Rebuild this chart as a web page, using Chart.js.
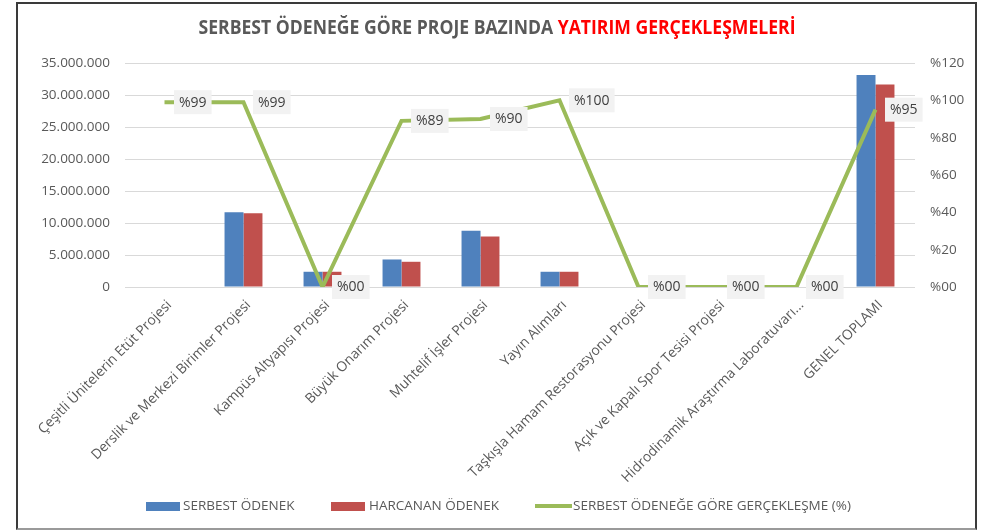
<!DOCTYPE html>
<html>
<head>
<meta charset="utf-8">
<script src="https://cdn.jsdelivr.net/npm/chart.js@4.4.1/dist/chart.umd.min.js"></script>
<style>
  html, body { margin: 0; padding: 0; background: #ffffff; }
  #wrap { position: relative; width: 992px; height: 531px; }
  #c { position: absolute; left: 0; top: 0; }
  #frame { position: absolute; left: 16px; top: 2px; width: 961px; height: 528px; box-sizing: border-box;
           border: 2px solid #3a3a3a; border-bottom-color: #9a9a9a; pointer-events: none; }
</style>
</head>
<body>
<div id="wrap">
  <canvas id="c" width="992" height="531"></canvas>
  <div id="frame"></div>
</div>
<script>
// ---- data ----
const categories = [
  "Çeşitli Ünitelerin Etüt Projesi",
  "Derslik ve Merkezi Birimler Projesi",
  "Kampüs Altyapısı Projesi",
  "Büyük Onarım Projesi",
  "Muhtelif İşler Projesi",
  "Yayın Alımları",
  "Taşkışla Hamam Restorasyonu Projesi",
  "Açık ve Kapalı Spor Tesisi Projesi",
  "Hidrodinamik Araştırma Laboratuvarı...",
  "GENEL TOPLAMI"
];
const serbestOdenek = [0, 11690000, 2380000, 4300000, 8770000, 2380000, 0, 0, 0, 33130000];
const harcananOdenek = [0, 11530000, 2380000, 3940000, 7890000, 2380000, 0, 0, 0, 31630000];
const gerceklesme = [99, 99, 0, 89, 90, 100, 0, 0, 0, 95];
const leftTicks = [0, 5000000, 10000000, 15000000, 20000000, 25000000, 30000000, 35000000];
const rightTicks = [0, 20, 40, 60, 80, 100, 120];
const seriesNames = ["SERBEST ÖDENEK", "HARCANAN ÖDENEK", "SERBEST ÖDENEĞE GÖRE GERÇEKLEŞME (%)"];
const titleParts = [["SERBEST ÖDENEĞE GÖRE PROJE BAZINDA ", "#595959"], ["YATIRIM GERÇEKLEŞMELERİ", "#ff0000"]];

const BLUE = "#4f81bd", RED = "#c0504d", GREEN = "#9bbb59";
const FONT = '"Open Sans", "Liberation Sans", sans-serif';

function fmtThousands(v) { return String(Math.round(v)).replace(/\B(?=(\d{3})+(?!\d))/g, "."); }
function fmtPct(v) { return "%" + (v < 10 ? "0" + v : String(v)); }

const titlePlugin = {
  id: "titlePlugin",
  afterDraw(chart) {
    const ctx = chart.ctx;
    ctx.save();
    ctx.font = 'bold 19px ' + FONT;
    ctx.textBaseline = "middle";
    ctx.textAlign = "left";
    let total = 0;
    const widths = titleParts.map(p => { const w = ctx.measureText(p[0]).width; total += w; return w; });
    const target = 597;
    const sx = target / total;
    ctx.translate(497 - target / 2, 29);
    ctx.scale(sx, 1);
    let x = 0;
    titleParts.forEach((p, i) => {
      ctx.fillStyle = p[1];
      ctx.fillText(p[0], x, 0);
      x += widths[i];
    });
    ctx.restore();
  }
};

const labelPlugin = {
  id: "labelPlugin",
  afterDatasetsDraw(chart) {
    const ctx = chart.ctx;
    const idx = chart.data.datasets.findIndex(d => d.type === "line");
    const meta = chart.getDatasetMeta(idx);
    const data = chart.data.datasets[idx].data;
    ctx.save();
    ctx.font = '14px ' + FONT;
    ctx.textBaseline = "middle";
    ctx.textAlign = "left";
    meta.data.forEach((pt, i) => {
      const txt = fmtPct(data[i]);
      const tw = ctx.measureText(txt).width;
      const bx = pt.x + 9.5, bw = tw + 10, bh = 24, by = pt.y - 12;
      ctx.fillStyle = "#f2f2f2";
      ctx.fillRect(bx, by, bw, bh);
      ctx.fillStyle = "#404040";
      ctx.fillText(txt, bx + 5, pt.y + 0.5);
    });
    ctx.restore();
  }
};

const legendPlugin = {
  id: "legendPlugin",
  afterDraw(chart) {
    const ctx = chart.ctx;
    ctx.save();
    ctx.font = '13.5px ' + FONT;
    ctx.textBaseline = "middle";
    ctx.textAlign = "left";
    ctx.fillStyle = BLUE;
    ctx.fillRect(146, 502, 34, 9);
    ctx.fillStyle = "#595959";
    ctx.fillText(seriesNames[0], 183, 506.5);
    ctx.fillStyle = RED;
    ctx.fillRect(331, 502, 34, 9);
    ctx.fillStyle = "#595959";
    ctx.fillText(seriesNames[1], 369, 506.5);
    ctx.strokeStyle = GREEN;
    ctx.lineWidth = 4;
    ctx.beginPath();
    ctx.moveTo(535, 506);
    ctx.lineTo(572, 506);
    ctx.stroke();
    ctx.fillStyle = "#595959";
    ctx.fillText(seriesNames[2], 573, 506.5);
    ctx.restore();
  }
};

new Chart(document.getElementById("c"), {
  data: {
    labels: categories,
    datasets: [
      {
        type: "line", label: seriesNames[2], data: gerceklesme, yAxisID: "y1",
        borderColor: GREEN, backgroundColor: GREEN, borderWidth: 4,
        pointRadius: 0, pointHoverRadius: 0, tension: 0, order: 0,
        borderJoinStyle: "miter"
      },
      {
        type: "bar", label: seriesNames[0], data: serbestOdenek, yAxisID: "y",
        backgroundColor: BLUE, categoryPercentage: 0.48, barPercentage: 1.0, order: 1
      },
      {
        type: "bar", label: seriesNames[1], data: harcananOdenek, yAxisID: "y",
        backgroundColor: RED, categoryPercentage: 0.48, barPercentage: 1.0, order: 2
      }
    ]
  },
  options: {
    responsive: false,
    animation: false,
    devicePixelRatio: 1,
    layout: { padding: { top: 63, left: 0, right: 0, bottom: 0 } },
    plugins: {
      legend: { display: false },
      title: { display: false },
      tooltip: { enabled: false }
    },
    scales: {
      x: {
        grid: { display: false, drawTicks: false },
        border: { display: false },
        ticks: {
          autoSkip: false, maxRotation: 45, minRotation: 45,
          color: "#595959", font: { family: FONT, size: 13.8 }, padding: 10, labelOffset: 5
        },
        afterFit(scale) { scale.height = 244; }
      },
      y: {
        position: "left",
        min: 0, max: 35000000,
        afterBuildTicks(scale) { scale.ticks = leftTicks.map(v => ({ value: v })); },
        grid: { color: "#d9d9d9", lineWidth: 1, drawTicks: false },
        border: { display: false },
        ticks: {
          color: "#595959", font: { family: FONT, size: 13.5 }, padding: 15,
          callback: v => fmtThousands(v)
        },
        afterFit(scale) { scale.width = 125; }
      },
      y1: {
        position: "right",
        min: 0, max: 120,
        afterBuildTicks(scale) { scale.ticks = rightTicks.map(v => ({ value: v })); },
        grid: { display: false, drawTicks: false },
        border: { display: false },
        ticks: {
          color: "#595959", font: { family: FONT, size: 13.5 }, padding: 15,
          callback: v => fmtPct(v)
        },
        afterFit(scale) { scale.width = 77; }
      }
    }
  },
  plugins: [labelPlugin, titlePlugin, legendPlugin]
});
</script>
</body>
</html>
